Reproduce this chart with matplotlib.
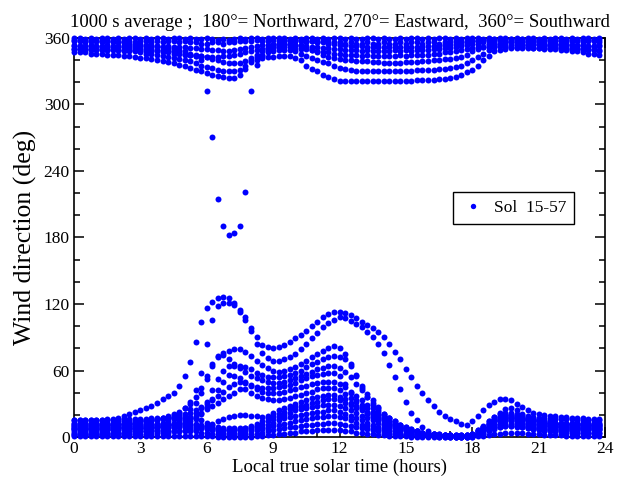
import matplotlib
matplotlib.use("Agg")
import matplotlib.pyplot as plt
import numpy as np

plt.rcParams["font.family"] = ["Liberation Serif", "DejaVu Serif"]

# 1000 s averages binned on a quarter-hour grid of local true solar time
BIN_HOURS = 0.25
N_BINS = 96

# wind direction (deg) per sol, one value per bin (4 bins per hour)
sol_low_a = [
    15, 15, 15, 15, 15, 15, 16, 16, 17, 19, 21, 23, 24, 26, 28, 31, 34, 37, 40, 46, 55, 68, 86, 104,
    116, 122, 125, 126, 125, 121, 113, 106, 98, 90, 83, 81, 80, 81, 83, 86, 89, 92, 96, 100, 104, 108, 111, 113,
    113, 112, 110, 107, 104, 101, 98, 95, 90, 84, 77, 70, 61, 54, 46, 40, 33, 28, 23, 19, 16, 14, 12, 11,
    14, 19, 24, 29, 32, 34, 34, 33, 30, 27, 24, 22, 21, 20, 19, 19, 18, 18, 17, 17, 17, 16, 16, 16]
sol_low_b = [
    10, 10, 10, 10, 10, 11, 11, 11, 12, 12, 12, 13, 13, 14, 14, 15, 17, 18, 20, 22, 26, 32, 42, 58,
    84, 106, 118, 121, 121, 119, 115, 108, 96, 84, 76, 71, 69, 69, 70, 72, 75, 79, 84, 89, 94, 99, 103, 106,
    108, 107, 105, 102, 99, 95, 90, 84, 76, 65, 54, 43, 32, 22, 15, 9, 5, 3, 2, 1, 1, 1, 1, 1,
    2, 5, 9, 14, 18, 22, 25, 26, 24, 21, 18, 16, 14, 13, 13, 12, 12, 12, 11, 11, 11, 11, 11, 11]
sol_mid_a = [
    12, 12, 12, 12, 12, 12, 12, 12, 12, 13, 13, 13, 14, 14, 15, 16, 17, 19, 21, 23, 26, 30, 36, 44,
    55, 66, 73, 76, 78, 79, 79, 77, 73, 69, 65, 62, 60, 59, 60, 61, 63, 66, 69, 72, 75, 78, 80, 82,
    80, 75, 66, 55, 44, 36, 29, 24, 18, 14, 11, 9, 8, 6, 5, 4, 3, 3, 2, 2, 2, 2, 2, 2,
    3, 5, 8, 12, 15, 18, 20, 20, 19, 17, 16, 15, 14, 13, 13, 13, 12, 12, 12, 12, 12, 12, 12, 12]
sol_mid_b = [
    8, 8, 8, 8, 8, 9, 9, 9, 9, 9, 10, 10, 10, 11, 11, 12, 13, 14, 16, 18, 21, 25, 31, 40,
    52, 64, 72, 74, 70, 66, 64, 63, 61, 58, 56, 54, 54, 54, 55, 56, 58, 60, 63, 66, 68, 70, 72, 73,
    72, 70, 64, 56, 46, 39, 33, 27, 21, 17, 13, 11, 8, 6, 5, 4, 3, 3, 2, 2, 2, 2, 2, 2,
    2, 4, 7, 11, 14, 17, 18, 18, 17, 16, 14, 13, 12, 11, 11, 11, 10, 10, 10, 10, 10, 10, 10, 10]
sol_mid_c = [
    5, 5, 5, 5, 5, 5, 6, 6, 6, 6, 7, 7, 7, 8, 8, 9, 10, 11, 12, 14, 16, 18, 22, 26,
    32, 42, 52, 60, 64, 64, 62, 59, 55, 53, 51, 50, 49, 49, 50, 51, 53, 55, 57, 59, 61, 62, 64, 64,
    62, 59, 54, 48, 42, 36, 31, 26, 21, 17, 14, 11, 9, 7, 5, 4, 3, 2, 2, 1, 1, 1, 1, 1,
    1, 3, 6, 9, 12, 15, 16, 16, 15, 14, 13, 12, 11, 10, 10, 9, 9, 9, 8, 8, 8, 8, 8, 8]
sol_mid_d = [
    3, 3, 3, 3, 3, 3, 3, 4, 4, 4, 4, 5, 5, 5, 6, 6, 7, 8, 9, 10, 12, 14, 17, 21,
    27, 34, 42, 50, 56, 55, 53, 50, 47, 45, 44, 44, 44, 45, 46, 47, 49, 51, 53, 55, 56, 57, 58, 58,
    55, 48, 40, 33, 27, 22, 18, 15, 12, 10, 8, 7, 6, 5, 4, 3, 3, 2, 2, 2, 1, 1, 1, 1,
    2, 4, 6, 8, 10, 12, 14, 14, 13, 12, 10, 9, 8, 7, 7, 7, 6, 6, 6, 6, 6, 6, 6, 6]
sol_mid_e = [
    13, 13, 13, 13, 13, 13, 13, 13, 14, 14, 14, 14, 15, 15, 15, 16, 16, 17, 18, 19, 20, 22, 24, 27,
    30, 33, 37, 41, 45, 48, 50, 49, 46, 43, 41, 40, 40, 40, 41, 42, 43, 45, 46, 48, 49, 50, 50, 50,
    48, 45, 41, 37, 33, 29, 26, 23, 20, 17, 14, 11, 9, 7, 5, 4, 4, 3, 3, 2, 2, 2, 2, 2,
    3, 6, 9, 12, 14, 16, 17, 17, 17, 16, 15, 15, 14, 14, 14, 13, 13, 13, 13, 13, 13, 13, 13, 13]
sol_mid_f = [
    7, 7, 7, 7, 7, 7, 7, 7, 8, 8, 8, 8, 8, 9, 9, 9, 10, 11, 12, 13, 15, 17, 19, 22,
    25, 28, 31, 34, 37, 40, 43, 43, 40, 37, 35, 34, 33, 33, 34, 35, 37, 38, 40, 41, 43, 44, 44, 44,
    42, 39, 35, 32, 29, 26, 23, 20, 17, 14, 12, 10, 8, 6, 5, 4, 4, 3, 3, 2, 2, 1, 1, 1,
    1, 3, 5, 7, 9, 11, 12, 12, 12, 11, 10, 9, 8, 8, 8, 7, 7, 7, 7, 7, 7, 7, 7, 7]
sol_mid_g = [
    2, 2, 2, 2, 2, 2, 2, 2, 2, 2, 3, 3, 3, 3, 3, 4, 4, 4, 5, 5, 6, 6, 7, 8,
    10, 12, 14, 16, 18, 19, 20, 20, 19, 19, 18, 19, 22, 24, 26, 28, 30, 32, 33, 35, 36, 37, 38, 38,
    36, 34, 31, 28, 26, 23, 21, 18, 16, 13, 11, 9, 7, 5, 4, 3, 3, 2, 2, 1, 1, 0, 0, 0,
    0, 2, 3, 5, 7, 9, 10, 10, 10, 9, 8, 7, 6, 5, 5, 5, 4, 4, 4, 4, 4, 4, 4, 4]
sol_band_a = [
    15, 15, 15, 15, 15, 15, 15, 15, 16, 16, 16, 16, 16, 16, 17, 17, 17, 17, 17, 17, 17, 17, 16, 15,
    13, 11, 9, 8, 8, 8, 8, 8, 9, 10, 12, 14, 16, 18, 20, 22, 24, 25, 26, 27, 28, 29, 29, 29,
    28, 26, 24, 22, 19, 17, 15, 13, 11, 9, 8, 6, 5, 4, 3, 3, 2, 2, 2, 1, 1, 1, 1, 2,
    3, 6, 10, 14, 18, 21, 22, 22, 21, 20, 19, 18, 17, 17, 16, 16, 16, 16, 16, 15, 15, 15, 15, 15]
sol_band_b = [
    11, 11, 11, 11, 11, 11, 11, 11, 11, 12, 12, 12, 12, 12, 12, 12, 12, 12, 13, 13, 13, 12, 12, 11,
    10, 8, 7, 6, 6, 6, 6, 6, 7, 8, 9, 11, 13, 15, 17, 18, 19, 20, 21, 22, 23, 23, 24, 24,
    23, 21, 19, 17, 15, 13, 11, 9, 8, 6, 5, 4, 3, 3, 2, 2, 1, 1, 1, 1, 1, 1, 1, 1,
    2, 5, 9, 13, 16, 19, 20, 20, 19, 18, 17, 16, 15, 14, 13, 13, 12, 12, 12, 12, 12, 11, 11, 11]
sol_band_c = [
    7, 7, 7, 7, 7, 7, 7, 8, 8, 8, 8, 8, 8, 8, 8, 9, 9, 9, 9, 9, 9, 9, 8, 8,
    7, 6, 5, 4, 4, 4, 4, 4, 5, 6, 7, 8, 10, 11, 12, 13, 14, 15, 16, 17, 18, 18, 19, 19,
    18, 17, 15, 13, 11, 10, 8, 7, 6, 5, 4, 3, 2, 2, 2, 1, 1, 1, 1, 1, 0, 0, 0, 0,
    1, 3, 6, 9, 12, 14, 15, 15, 14, 13, 12, 11, 10, 10, 9, 9, 9, 8, 8, 8, 8, 8, 8, 7]
sol_band_d = [
    4, 4, 4, 4, 4, 4, 4, 4, 4, 4, 5, 5, 5, 5, 5, 5, 5, 5, 5, 5, 5, 5, 5, 4,
    4, 3, 3, 2, 2, 2, 2, 2, 3, 3, 4, 5, 6, 7, 8, 9, 9, 10, 11, 11, 12, 12, 13, 13,
    12, 11, 10, 9, 8, 7, 6, 5, 4, 3, 3, 2, 2, 1, 1, 1, 1, 1, 0, 0, 0, 0, 0, 0,
    1, 2, 4, 6, 8, 9, 10, 10, 9, 9, 8, 7, 7, 6, 6, 5, 5, 5, 5, 5, 4, 4, 4, 4]
sol_band_e = [
    1, 1, 1, 1, 1, 1, 1, 1, 1, 1, 1, 1, 1, 1, 1, 1, 1, 1, 1, 1, 1, 1, 1, 1,
    1, 1, 0, 0, 0, 0, 0, 0, 0, 1, 1, 2, 2, 3, 3, 4, 4, 5, 5, 5, 6, 6, 6, 6,
    6, 5, 5, 4, 4, 3, 3, 2, 2, 1, 1, 1, 1, 0, 0, 0, 0, 0, 0, 0, 0, 0, 0, 0,
    0, 1, 1, 2, 3, 3, 4, 4, 4, 4, 3, 3, 3, 2, 2, 2, 2, 1, 1, 1, 1, 1, 1, 1]
sol_band_f = [
    9, 9, 9, 9, 9, 9, 9, 9, 10, 10, 10, 10, 10, 10, 10, 11, 11, 11, 11, 11, 11, 11, 10, 10,
    9, 8, 7, 6, 6, 6, 7, 8, 10, 12, 14, 17, 19, 21, 23, 25, 27, 28, 29, 31, 32, 33, 34, 34,
    33, 31, 29, 26, 24, 21, 19, 16, 14, 12, 10, 8, 6, 5, 4, 3, 2, 2, 1, 1, 1, 1, 1, 1,
    2, 4, 7, 11, 14, 16, 18, 18, 17, 16, 15, 14, 13, 12, 11, 10, 10, 10, 9, 9, 9, 9, 9, 9]

sol_top_a = [
    360, 360, 359, 360, 359, 360, 360, 359, 360, 359, 360, 360, 359, 360, 359, 360, 360, 359, 360, 360, 359, 360, 359, 359,
    360, 359, 358, 359, 358, 359, 360, 359, 360, 360, 359, 360, 360, 360, 360, 359, 360, 359, 360, 360, 359, 360, 359, 360,
    360, 359, 360, 359, 359, 360, 360, 359, 360, 359, 359, 360, 359, 360, 360, 359, 360, 359, 360, 360, 359, 360, 359, 360,
    360, 360, 359, 360, 359, 360, 360, 359, 360, 359, 360, 360, 359, 360, 359, 360, 360, 359, 360, 359, 360, 360, 359, 360]
sol_top_b = [
    357, 357, 356, 357, 357, 356, 357, 357, 356, 357, 357, 356, 357, 357, 356, 357, 356, 357, 357, 356, 357, 356, 356, 355,
    355, 356, 356, 355, 356, 356, 357, 357, 357, 358, 357, 357, 358, 357, 357, 358, 357, 357, 356, 357, 356, 357, 356, 356,
    356, 355, 356, 355, 355, 356, 355, 355, 356, 355, 355, 356, 355, 356, 356, 355, 356, 356, 355, 356, 356, 357, 356, 357,
    357, 357, 358, 357, 357, 358, 357, 357, 358, 357, 357, 357, 357, 357, 356, 357, 357, 356, 357, 357, 356, 357, 357, 356]
sol_top_c = [
    354, 353, 353, 354, 353, 353, 354, 353, 353, 354, 353, 353, 353, 353, 352, 353, 352, 353, 352, 352, 352, 351, 351, 350,
    350, 349, 349, 348, 348, 349, 350, 351, 352, 353, 354, 354, 355, 355, 354, 355, 354, 354, 353, 352, 352, 351, 351, 350,
    350, 349, 349, 349, 348, 349, 348, 348, 348, 348, 349, 348, 349, 348, 349, 349, 349, 350, 350, 351, 351, 352, 353, 354,
    355, 355, 356, 355, 356, 355, 355, 356, 355, 355, 354, 355, 355, 354, 354, 355, 354, 354, 354, 353, 354, 353, 353, 354]
sol_top_d = [
    350, 350, 350, 350, 350, 350, 349, 350, 349, 349, 349, 349, 349, 348, 348, 348, 347, 347, 346, 346, 345, 345, 344, 344,
    343, 343, 343, 344, 344, 345, 346, 347, 348, 349, 350, 351, 351, 352, 352, 352, 351, 350, 350, 349, 348, 347, 347, 346,
    346, 345, 345, 345, 344, 345, 344, 344, 344, 344, 344, 345, 344, 345, 345, 345, 345, 346, 346, 347, 347, 348, 349, 350,
    351, 352, 352, 352, 352, 353, 352, 352, 352, 352, 352, 351, 351, 351, 351, 351, 351, 350, 350, 350, 350, 350, 350, 349]
sol_dip_a = [
    347, 347, 347, 346, 346, 346, 345, 345, 345, 344, 344, 343, 342, 342, 341, 340, 339, 338, 337, 336, 335, 333, 331, 330,
    328, 327, 326, 325, 324, 324, 327, 332, 338, 340, 342, 343, 343, 344, 344, 344, 342, 340, 335, 332, 330, 327, 325, 323,
    321, 321, 321, 321, 321, 321, 321, 321, 321, 321, 321, 321, 321, 321, 322, 322, 322, 322, 323, 323, 324, 325, 327, 329,
    331, 335, 340, 344, 348, 349, 350, 351, 351, 351, 351, 351, 351, 350, 350, 350, 349, 349, 348, 348, 347, 346, 346, 345]
sol_dip_b = [
    350, 350, 350, 349, 349, 349, 349, 349, 349, 348, 348, 348, 347, 346, 346, 345, 344, 343, 342, 341, 340, 339, 337, 335,
    334, 333, 331, 330, 330, 330, 331, 335, 340, 343, 345, 347, 348, 349, 349, 349, 348, 346, 344, 342, 340, 338, 337, 335,
    333, 332, 331, 330, 330, 330, 330, 330, 330, 330, 330, 330, 330, 330, 331, 331, 331, 331, 332, 332, 333, 334, 335, 337,
    340, 343, 346, 349, 352, 353, 353, 354, 354, 354, 354, 354, 354, 353, 353, 353, 352, 352, 351, 351, 350, 349, 349, 348]
sol_dip_c = [
    353, 353, 353, 353, 353, 352, 352, 352, 352, 352, 351, 351, 351, 350, 350, 349, 349, 348, 348, 347, 346, 345, 345, 344,
    343, 341, 340, 338, 337, 337, 337, 339, 342, 345, 348, 351, 353, 354, 355, 355, 354, 353, 351, 349, 347, 345, 343, 342,
    341, 340, 340, 339, 339, 339, 338, 338, 337, 337, 337, 337, 338, 338, 338, 339, 339, 340, 340, 341, 341, 342, 343, 345,
    348, 350, 352, 354, 355, 355, 356, 356, 356, 356, 356, 356, 356, 355, 355, 355, 355, 355, 354, 354, 354, 353, 353, 353]
# the one sol whose morning flow swung round through 180 deg
sol_swing = [
    358, 358, 358, 357, 357, 357, 357, 356, 356, 356, 355, 355, 355, 354, 354, 353, 352, 351, 350, 349, 348, 346, 344, 340,
    312, 271, 215, 190, 182, 184, 190, 221, 312, 336, 344, 349, 352, 355, 357, 358, 358, 358, 357, 357, 356, 356, 355, 355,
    354, 354, 353, 353, 353, 352, 352, 352, 352, 352, 352, 352, 352, 352, 352, 352, 353, 353, 353, 354, 354, 355, 355, 356,
    357, 358, 358, 359, 359, 359, 359, 359, 359, 359, 359, 359, 358, 358, 358, 358, 358, 358, 358, 358, 358, 358, 358, 358]

sols = [sol_low_a, sol_low_b, sol_mid_a, sol_mid_b, sol_mid_c, sol_mid_d,
        sol_mid_e, sol_mid_f, sol_mid_g, sol_band_a, sol_band_b, sol_band_c,
        sol_band_d, sol_band_e, sol_band_f, sol_top_a, sol_top_b, sol_top_c,
        sol_top_d, sol_dip_a, sol_dip_b, sol_dip_c, sol_swing]

local_time = np.arange(N_BINS) * BIN_HOURS

fig = plt.figure(figsize=(6.25, 4.84), dpi=100)
ax = fig.add_axes([0.1184, 0.0971, 0.8496, 0.8244])

for k, direction in enumerate(sols):
    ax.plot(local_time, direction, "o", ls="none", color="#0000ff", ms=4.3,
            mec="none", clip_on=False, zorder=3,
            label="Sol  15-57" if k == 0 else None)

ax.set_xlim(0, 24)
ax.set_ylim(0, 360)
ax.set_xticks(np.arange(0, 25, 3))
ax.set_xticks(np.arange(0, 25, 1), minor=True)
ax.set_yticks(np.arange(0, 361, 60))
ax.set_yticks(np.arange(0, 361, 20), minor=True)
ax.tick_params(which="both", direction="in", top=True, right=True,
               width=1.1, labelsize=12.5, pad=3)
ax.tick_params(which="major", length=7)
ax.tick_params(which="minor", length=4)
for sp in ax.spines.values():
    sp.set_linewidth(1.2)

ax.set_xlabel("Local true solar time (hours)", fontsize=13.5, labelpad=1)
ax.set_ylabel("Wind direction (deg)", fontsize=18.5, labelpad=5)
ax.set_title("1000 s average ;  180\u00b0= Northward, 270\u00b0= Eastward,  "
             "360\u00b0= Southward", fontsize=13.5, pad=8)

leg = ax.legend(loc="upper left", bbox_to_anchor=(0.714, 0.614),
                borderaxespad=0, fancybox=False, edgecolor="black",
                framealpha=1, fontsize=12.5, handletextpad=0.5,
                handlelength=1.4, borderpad=0.45, markerscale=0.9)
leg.get_frame().set_linewidth(1.0)

fig.savefig("out.png", dpi=100)
